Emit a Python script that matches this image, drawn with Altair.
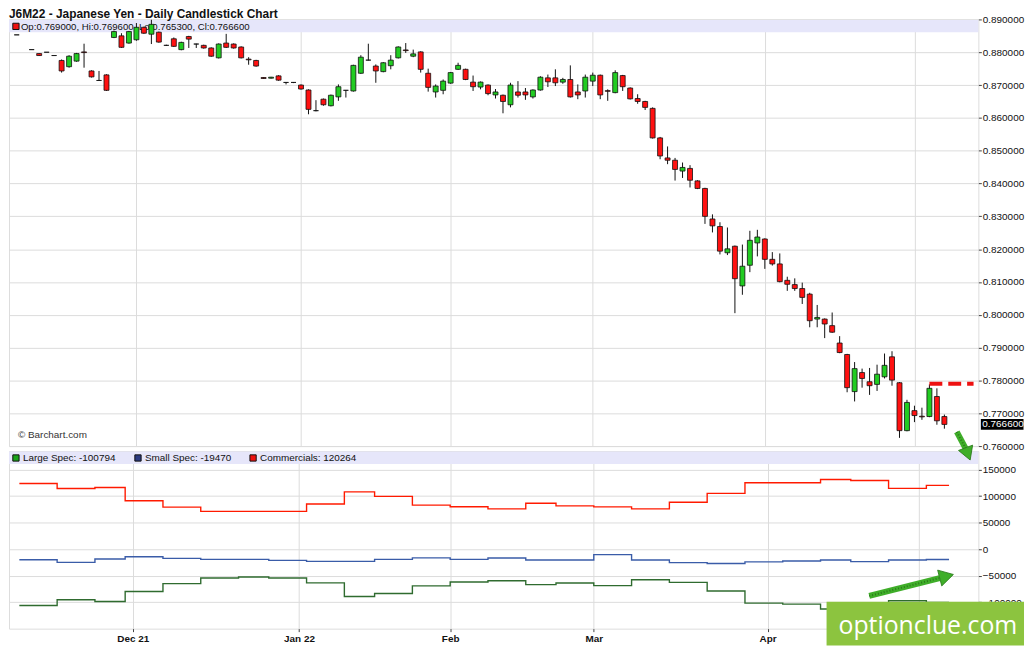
import altair as alt
import pandas as pd
import numpy as np

TITLE = "J6M22 - Japanese Yen - Daily Candlestick Chart"

# trading-day position of each candle (position 1 has no bar)
day = [0] + list(range(2, 125))
opens = [0.8853, 0.8808, 0.8796, 0.8800, 0.8790, 0.8775, 0.8756, 0.8773, 0.8801, 0.8743,
         0.8714, 0.8731, 0.8845, 0.8850, 0.8828, 0.8838, 0.8876, 0.8855, 0.8861, 0.8821,
         0.8841, 0.8808, 0.8848, 0.8825, 0.8821, 0.8813, 0.8783, 0.8828, 0.8825, 0.8816,
         0.8779, 0.8775, 0.8723, 0.8721, 0.8728, 0.8708, 0.8708, 0.8700, 0.8685, 0.8622,
         0.8657, 0.8637, 0.8664, 0.8684, 0.8682, 0.8736, 0.8776, 0.8758, 0.8741, 0.8759,
         0.8783, 0.8807, 0.8788, 0.8801, 0.8736, 0.8679, 0.8684, 0.8706, 0.8748, 0.8748,
         0.8709, 0.8694, 0.8700, 0.8670, 0.8669, 0.8640, 0.8679, 0.8679, 0.8664, 0.8685,
         0.8722, 0.8722, 0.8709, 0.8717, 0.8679, 0.8682, 0.8712, 0.8730, 0.8683, 0.8677,
         0.8729, 0.8691, 0.8659, 0.8650, 0.8629, 0.8539, 0.8478, 0.8471, 0.8438, 0.8446,
         0.8408, 0.8385, 0.8292, 0.8269, 0.8189, 0.8209, 0.8088, 0.8151, 0.8219, 0.8231,
         0.8169, 0.8155, 0.8105, 0.8092, 0.8080, 0.8063, 0.7987, 0.7987, 0.7967, 0.7914,
         0.7879, 0.7766, 0.7824, 0.7796, 0.7788, 0.7811, 0.7872, 0.7793, 0.7647, 0.7708,
         0.7691, 0.7690, 0.7751, 0.7690]
highs = [0.8853, 0.8808, 0.8797, 0.8800, 0.8790, 0.8778, 0.8791, 0.8798, 0.8826, 0.8745,
         0.8743, 0.8733, 0.8866, 0.8858, 0.8865, 0.8889, 0.8878, 0.8899, 0.8863, 0.8823,
         0.8845, 0.8832, 0.8850, 0.8826, 0.8823, 0.8815, 0.8827, 0.8856, 0.8827, 0.8818,
         0.8785, 0.8777, 0.8724, 0.8725, 0.8730, 0.8709, 0.8709, 0.8702, 0.8687, 0.8654,
         0.8659, 0.8671, 0.8702, 0.8685, 0.8762, 0.8791, 0.8826, 0.8763, 0.8770, 0.8791,
         0.8818, 0.8828, 0.8808, 0.8803, 0.8750, 0.8702, 0.8717, 0.8740, 0.8768, 0.8750,
         0.8729, 0.8711, 0.8702, 0.8688, 0.8671, 0.8707, 0.8712, 0.8691, 0.8687, 0.8727,
         0.8732, 0.8748, 0.8722, 0.8760, 0.8702, 0.8732, 0.8738, 0.8732, 0.8687, 0.8745,
         0.8731, 0.8693, 0.8672, 0.8652, 0.8632, 0.8542, 0.8513, 0.8478, 0.8464, 0.8456,
         0.8410, 0.8387, 0.8306, 0.8282, 0.8266, 0.8211, 0.8214, 0.8256, 0.8259, 0.8233,
         0.8191, 0.8187, 0.8116, 0.8111, 0.8098, 0.8067, 0.8030, 0.7989, 0.8007, 0.7935,
         0.7881, 0.7856, 0.7836, 0.7838, 0.7848, 0.7882, 0.7889, 0.7795, 0.7741, 0.7723,
         0.7717, 0.7788, 0.7776, 0.7696]
lows = [0.8853, 0.8808, 0.8789, 0.8800, 0.8790, 0.8738, 0.8753, 0.8771, 0.8753, 0.8723,
        0.8714, 0.8682, 0.8843, 0.8813, 0.8826, 0.8835, 0.8856, 0.8825, 0.8829, 0.8819,
        0.8816, 0.8806, 0.8813, 0.8813, 0.8811, 0.8786, 0.8781, 0.8813, 0.8811, 0.8781,
        0.8762, 0.8756, 0.8719, 0.8720, 0.8713, 0.8702, 0.8706, 0.8686, 0.8611, 0.8620,
        0.8637, 0.8635, 0.8652, 0.8662, 0.8680, 0.8734, 0.8775, 0.8707, 0.8739, 0.8748,
        0.8781, 0.8798, 0.8785, 0.8738, 0.8680, 0.8662, 0.8672, 0.8704, 0.8746, 0.8715,
        0.8682, 0.8687, 0.8669, 0.8659, 0.8614, 0.8632, 0.8662, 0.8655, 0.8659, 0.8683,
        0.8694, 0.8697, 0.8704, 0.8662, 0.8657, 0.8662, 0.8697, 0.8657, 0.8652, 0.8675,
        0.8682, 0.8656, 0.8643, 0.8624, 0.8537, 0.8474, 0.8459, 0.8409, 0.8417, 0.8388,
        0.8383, 0.8277, 0.8251, 0.8184, 0.8182, 0.8005, 0.8061, 0.8130, 0.8178, 0.8140,
        0.8150, 0.8099, 0.8073, 0.8073, 0.8033, 0.7962, 0.7962, 0.7929, 0.7945, 0.7883,
        0.7764, 0.7736, 0.7778, 0.7756, 0.7768, 0.7806, 0.7784, 0.7625, 0.7645, 0.7673,
        0.7680, 0.7688, 0.7665, 0.7653]
closes = [0.8853, 0.8808, 0.8790, 0.8800, 0.8790, 0.8743, 0.8788, 0.8796, 0.8799, 0.8725,
          0.8714, 0.8684, 0.8863, 0.8815, 0.8863, 0.8876, 0.8858, 0.8885, 0.8831, 0.8821,
          0.8818, 0.8830, 0.8840, 0.8825, 0.8813, 0.8788, 0.8825, 0.8815, 0.8813, 0.8783,
          0.8777, 0.8758, 0.8720, 0.8724, 0.8715, 0.8708, 0.8708, 0.8688, 0.8626, 0.8622,
          0.8640, 0.8669, 0.8695, 0.8684, 0.8760, 0.8785, 0.8776, 0.8743, 0.8768, 0.8776,
          0.8816, 0.8805, 0.8795, 0.8748, 0.8693, 0.8697, 0.8712, 0.8738, 0.8760, 0.8717,
          0.8695, 0.8709, 0.8674, 0.8679, 0.8650, 0.8700, 0.8669, 0.8670, 0.8685, 0.8724,
          0.8710, 0.8707, 0.8717, 0.8664, 0.8670, 0.8724, 0.8730, 0.8670, 0.8681, 0.8738,
          0.8695, 0.8658, 0.8650, 0.8632, 0.8539, 0.8484, 0.8471, 0.8443, 0.8449, 0.8410,
          0.8385, 0.8300, 0.8271, 0.8194, 0.8201, 0.8110, 0.8148, 0.8227, 0.8237, 0.8169,
          0.8155, 0.8101, 0.8093, 0.8080, 0.8053, 0.7982, 0.7992, 0.7972, 0.7947, 0.7885,
          0.7778, 0.7836, 0.7806, 0.7784, 0.7819, 0.7846, 0.7801, 0.7647, 0.7733, 0.7693,
          0.7689, 0.7776, 0.7677, 0.7666]

price_ticks = [0.76, 0.77, 0.78, 0.79, 0.80, 0.81, 0.82, 0.83, 0.84, 0.85, 0.86, 0.87, 0.88, 0.89]
# month gridlines; the last one ("May") has its label hidden under the watermark
month_idx = [16, 38, 58, 77, 100, 120]
month_lbl = ["Dec 21", "Jan 22", "Feb", "Mar", "Apr", ""]

# weekly COT net positions (step starts)
cot_idx = [1, 6, 11, 15, 20, 25, 30, 34, 39, 44, 48, 53, 58, 63, 68, 72, 77, 82, 87, 92,
           97, 102, 107, 111, 116, 121, 124]
large_spec = [-106300, -95600, -98800, -80000, -65000, -54400, -52500, -54400, -63750, -89400,
              -83800, -69400, -61900, -59600, -67000, -63900, -68900, -57700, -62700, -78900,
              -101900, -103700, -113000, -110000, -97500, -100794, -100794]
small_spec = [-20000, -25000, -18750, -14400, -17500, -19400, -19400, -21250, -23100, -23100,
              -19400, -16600, -19400, -16700, -20400, -20400, -10400, -20400, -25400, -27200,
              -24100, -22300, -20400, -23500, -20400, -19470, -19470]
commercials = [123750, 114400, 116250, 91100, 79300, 71250, 71250, 71250, 85000, 108000,
               99400, 83000, 80000, 76000, 86600, 81600, 79700, 76000, 88400, 105200,
               125100, 125100, 131300, 129500, 114600, 120264, 120264]
cot_ticks = [-100000, -50000, 0, 50000, 100000, 150000]

resistance = 0.779
res_from, res_to = 122.0, 127.9

FONT = "Liberation Sans"
W = 977
H_TOP = 430
H_BOT = 179

xs = alt.Scale(domain=[-0.37, 127.88], nice=False, zero=False)
ys = alt.Scale(domain=[0.76, 0.89], nice=False, zero=False)
ys2 = alt.Scale(domain=[-150000, 185000], nice=False, zero=False)

label_expr = " : ".join("datum.value == {} ? '{}'".format(v, l)
                        for v, l in zip(month_idx, month_lbl)) + " : ''"

AX_X_TOP = alt.Axis(values=month_idx, labels=False, ticks=False, domain=False, grid=True,
                    gridColor="#dcdcdc", title=None)
AX_Y_TOP = alt.Axis(orient="right", values=price_ticks, format=".6f", title=None, grid=True,
                    gridColor="#dcdcdc", domain=False, tickSize=3, tickColor="#444",
                    labelPadding=1, labelFontSize=10, labelFont=FONT, labelColor="#111")
AX_X_BOT = alt.Axis(values=month_idx, labelExpr=label_expr, title=None, grid=True,
                    gridColor="#dcdcdc", domain=False, tickSize=3, tickColor="#444",
                    labelPadding=2, labelFontSize=10, labelFont=FONT, labelFontWeight="bold",
                    labelColor="#111")
AX_Y_BOT = alt.Axis(orient="right", values=cot_ticks, format="d", title=None, grid=True,
                    gridColor="#dcdcdc", domain=False, tickSize=3, tickColor="#444",
                    labelPadding=1, labelFontSize=10, labelFont=FONT, labelColor="#111")

df = pd.DataFrame(dict(day=day, open=opens, high=highs, low=lows, close=closes))
df["dir"] = np.where(df.close > df.open, "up", np.where(df.close < df.open, "down", "flat"))

last = df.iloc[-1]
hdr_text = "Op:{:.6f}, Hi:{:.6f}, Lo:{:.6f}, Cl:{:.6f}".format(last.open, last.high, last.low, last.close)
one = pd.DataFrame({"k": [0]})


def xt(f):
    return alt.X(f, scale=xs, axis=AX_X_TOP)


def yt(f):
    return alt.Y(f, scale=ys, axis=AX_Y_TOP)


def xb(f):
    return alt.X(f, scale=xs, axis=AX_X_BOT)


def yb(f):
    return alt.Y(f, scale=ys2, axis=AX_Y_BOT)


# ---------------- top panel ----------------
band = alt.Chart(one).mark_rect(color="#e6e6fa").encode(
    x=alt.value(0), x2=alt.value(W), y=alt.value(0.5), y2=alt.value(13))

title = alt.Chart(one).mark_text(align="left", baseline="top", fontSize=12, fontWeight="bold",
                                 font=FONT, color="#111").encode(
    x=alt.value(0), y=alt.value(-10), text=alt.datum(TITLE))

hdr_icon = alt.Chart(one).mark_point(shape="square", filled=True, size=40, color="#ee1111",
                                     stroke="#111", strokeWidth=1, opacity=1).encode(
    x=alt.value(7), y=alt.value(7))
hdr = alt.Chart(one).mark_text(align="left", baseline="middle", fontSize=9.7, font=FONT,
                               color="#111").encode(
    x=alt.value(12), y=alt.value(7.5), text=alt.datum(hdr_text))

credit = alt.Chart(one).mark_text(align="left", baseline="middle", fontSize=10, font=FONT,
                                  color="#333").encode(
    x=alt.value(9), y=alt.value(418.5), text=alt.datum("© Barchart.com"))

wicks = alt.Chart(df).mark_rule(color="#111", strokeWidth=1).encode(
    x=xt("day:Q"), y=yt("low:Q"), y2="high:Q")

bodies = alt.Chart(df).mark_bar(size=5, stroke="#111", strokeWidth=0.8).encode(
    x=xt("day:Q"), y=yt("open:Q"), y2="close:Q",
    color=alt.Color("dir:N", scale=alt.Scale(domain=["up", "down", "flat"],
                                             range=["#22cc22", "#ff1111", "#111111"]),
                    legend=None))

res_df = pd.DataFrame({"x": [res_from], "x2": [res_to], "y": [resistance]})
res_line = alt.Chart(res_df).mark_rule(color="#ee1111", strokeWidth=4, strokeDash=[13, 6]).encode(
    x=xt("x:Q"), x2="x2:Q", y=yt("y:Q"))

tag_df = pd.DataFrame({"y": [last.close], "t": ["{:.6f}".format(last.close)]})
tag_box = alt.Chart(tag_df).mark_tick(orient="horizontal", size=43, thickness=11,
                                      color="#000", opacity=1).encode(
    x=alt.value(1001), y=yt("y:Q"))
tag_txt = alt.Chart(tag_df).mark_text(align="left", baseline="middle", fontSize=10, font=FONT,
                                      color="white").encode(
    x=alt.value(981), y=yt("y:Q"), text="t:N")

top = alt.layer(band, wicks, hdr_icon, hdr, credit, bodies, res_line, tag_box, tag_txt,
                title).properties(width=W, height=H_TOP)

# ---------------- bottom panel ----------------
names = ["Large Spec", "Small Spec", "Commercials"]
line_cols = ["#2f6b2f", "#3a5ca8", "#ff1a00"]
icon_cols = ["#1aa31a", "#2b3a80", "#ee1111"]
latest = [large_spec[-1], small_spec[-1], commercials[-1]]
icon_x = [7, 130, 246]

cot = pd.DataFrame({
    "day": cot_idx * 3,
    "value": large_spec + small_spec + commercials,
    "series": [names[0]] * len(cot_idx) + [names[1]] * len(cot_idx) + [names[2]] * len(cot_idx),
})

band2 = alt.Chart(one).mark_rect(color="#e6e6fa").encode(
    x=alt.value(0), x2=alt.value(W), y=alt.value(0.5), y2=alt.value(13))

lines = alt.Chart(cot).mark_line(interpolate="step-after", strokeWidth=1.4).encode(
    x=xb("day:Q"), y=yb("value:Q"),
    color=alt.Color("series:N", scale=alt.Scale(domain=names, range=line_cols), legend=None),
    detail="series:N")

legend_layers = []
for nm, col, val, ix in zip(names, icon_cols, latest, icon_x):
    legend_layers.append(alt.Chart(one).mark_point(
        shape="square", filled=True, size=40, color=col, stroke="#111", strokeWidth=1,
        opacity=1).encode(x=alt.value(ix), y=alt.value(7)))
    legend_layers.append(alt.Chart(one).mark_text(
        align="left", baseline="middle", fontSize=10, font=FONT, color="#111").encode(
        x=alt.value(ix + 7), y=alt.value(7.5), text=alt.datum("{}: {}".format(nm, val))))

# annotation arrows (in lower-panel chart coordinates)
arrows = pd.DataFrame({
    "x": [113.44, 125.03], "x2": [122.76, 126.17],
    "y": [-88240, 221120], "y2": [-54550, 190600],
    "hx": [123.67, 126.49], "hy": [-51190, 179570], "ang": [75.5, 159.4], "sz": [270, 230],
})
shafts = alt.Chart(arrows).mark_rule(color="#3fae29", strokeWidth=6).encode(
    x=xb("x:Q"), x2="x2:Q", y=yb("y:Q"), y2="y2:Q")
shafts_tex = alt.Chart(arrows).mark_rule(color="#2a7a1a", strokeWidth=2, strokeDash=[1, 2]).encode(
    x=xb("x:Q"), x2="x2:Q", y=yb("y:Q"), y2="y2:Q")
heads = alt.Chart(arrows).mark_point(shape="triangle-up", filled=True, color="#3fae29",
                                     opacity=1, stroke="#2a7a1a", strokeWidth=0.8).encode(
    x=xb("hx:Q"), y=yb("hy:Q"),
    angle=alt.Angle("ang:Q", scale=None), size=alt.Size("sz:Q", scale=None, legend=None))

wm_box = alt.Chart(one).mark_rect(color="#8cc43f").encode(
    x=alt.value(824), x2=alt.value(1023), y=alt.value(152), y2=alt.value(196))
wm_txt = alt.Chart(one).mark_text(align="left", baseline="alphabetic", fontSize=25,
                                  font="Open Sans", color="white").encode(
    x=alt.value(836), y=alt.value(184), text=alt.datum("optionclue.com"))

bottom = alt.layer(band2, lines, *legend_layers, shafts, shafts_tex, heads,
                   wm_box, wm_txt).properties(width=W, height=H_BOT)

chart = alt.vconcat(top, bottom, spacing=5, bounds="flush").resolve_scale(
    color="independent", size="independent", angle="independent"
).properties(
    padding={"left": 0, "top": -3, "right": 0, "bottom": 0}
).configure_view(stroke="#9a9a9a", strokeWidth=1).configure(font=FONT)

chart.save("out.html", embed_options={"renderer": "svg", "actions": False})
